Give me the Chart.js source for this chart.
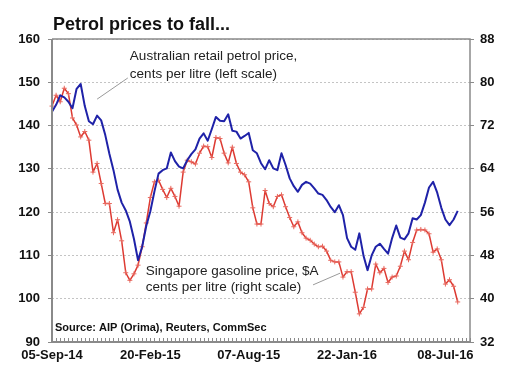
<!DOCTYPE html>
<html><head><meta charset="utf-8">
<script src="https://cdn.jsdelivr.net/npm/chart.js@4/dist/chart.umd.min.js"></script>
<style>html,body{margin:0;padding:0;background:#fff}canvas{display:block}</style>
</head><body>
<canvas id="c" width="507" height="378"></canvas>
<script>
const titleText = 'Petrol prices to fall...';
const sourceText = 'Source: AIP (Orima), Reuters, CommSec';
const retailLabel = ['Australian retail petrol price,', 'cents per litre (left scale)'];
const singaporeLabel = ['Singapore gasoline price, $A', 'cents per litre (right scale)'];
const tickLabels = ['05-Sep-14', '20-Feb-15', '07-Aug-15', '22-Jan-16', '08-Jul-16'];
const weekCount = 103;
const months = ['Jan','Feb','Mar','Apr','May','Jun','Jul','Aug','Sep','Oct','Nov','Dec'];
const categories = [];
for (let i = 0; i < weekCount; i++) {
  const d = new Date(Date.UTC(2014, 8, 5 + 7 * i));
  categories.push(String(d.getUTCDate()).padStart(2, '0') + '-' + months[d.getUTCMonth()] + '-' + String(d.getUTCFullYear()).slice(2));
}
// Australian retail petrol price, cents per litre (left scale)
const retailPrice = [
  143.2,144.8,147.0,146.5,145.5,144.0,148.5,149.6,144.5,141.0,
  140.3,142.3,141.2,137.8,133.5,129.7,125.2,122.2,120.4,117.8,
  113.8,108.9,112.0,116.8,120.2,124.8,128.9,129.7,130.1,133.8,
  131.8,130.5,130.1,132.0,133.4,134.5,137.0,138.2,136.5,139.2,
  142.0,141.1,141.0,142.6,138.8,138.6,137.0,137.6,138.3,134.3,
  133.6,131.3,129.9,132.0,130.1,129.7,133.6,130.9,127.8,126.0,
  124.7,126.3,127.0,126.6,125.5,124.3,124.0,122.8,121.2,120.0,
  121.6,119.3,114.0,112.0,111.3,115.1,110.0,106.6,110.0,112.0,
  112.7,111.5,110.4,114.0,116.9,114.1,113.7,115.1,118.6,118.3,
  119.3,122.2,125.7,127.0,124.5,121.0,118.3,117.0,118.3,120.3
];
// Singapore gasoline price, $A cents per litre (right scale)
const singaporePrice = [
  75.6,77.6,76.4,78.9,77.9,73.4,72.1,69.9,70.9,69.3,
  63.4,65.0,61.3,57.6,57.6,52.2,54.6,50.7,44.8,43.4,
  44.6,46.2,49.6,54.0,58.7,61.6,61.9,60.2,58.7,60.4,
  58.9,57.1,63.4,65.6,65.3,64.9,66.9,68.2,68.1,66.1,
  69.8,69.6,66.9,65.1,68.0,65.0,63.4,62.9,61.6,56.8,
  53.8,53.8,60.0,57.6,57.0,58.9,59.2,57.0,55.0,53.3,
  54.2,52.2,51.2,50.8,50.1,49.6,49.7,48.8,47.1,46.8,
  46.8,44.0,45.0,45.0,41.2,37.2,38.4,41.8,41.8,46.4,
  44.8,45.6,43.0,44.0,44.2,46.0,48.8,47.2,50.4,52.7,
  52.8,52.7,52.0,48.6,49.2,47.2,42.7,43.5,42.3,39.4
];
const leftMin = 90, leftMax = 160, leftStep = 10;
const rightMin = 32, rightMax = 88, rightStep = 8;

const FONT = '"Liberation Sans", Arial, sans-serif';
const BLUE = '#1f22a8';
const RED = '#dd3a32';
const AXIS = '#8a8a8a';

const decor = {
  id: 'decor',
  beforeDatasetsDraw(chart) {
    const {ctx, chartArea: a, scales} = chart;
    const xs = scales.x;
    ctx.save();
    ctx.strokeStyle = AXIS;
    ctx.lineWidth = 1;
    for (let i = 0; i < categories.length; i++) {
      const px = Math.round(xs.getPixelForValue(i)) + 0.5;
      ctx.beginPath();
      ctx.moveTo(px, a.bottom);
      ctx.lineTo(px, a.bottom - 4);
      ctx.stroke();
    }
    ctx.restore();
  },
  afterDatasetsDraw(chart) {
    const {ctx, chartArea: a, scales} = chart;
    const xs = scales.x, yl = scales.y;
    ctx.save();
    // frame
    ctx.strokeStyle = AXIS;
    ctx.lineWidth = 1.5;
    ctx.beginPath();
    ctx.moveTo(a.left, a.top); ctx.lineTo(a.right, a.top); ctx.lineTo(a.right, a.bottom);
    ctx.stroke();
    ctx.lineWidth = 2;
    ctx.beginPath();
    ctx.moveTo(a.left, a.top); ctx.lineTo(a.left, a.bottom); ctx.lineTo(a.right, a.bottom);
    ctx.stroke();
    // title
    ctx.fillStyle = '#111';
    ctx.textAlign = 'left';
    ctx.textBaseline = 'alphabetic';
    ctx.font = 'bold 18px ' + FONT;
    ctx.fillText(titleText, a.left + 1, 30);
    // annotations
    ctx.font = '13.5px ' + FONT;
    ctx.fillStyle = '#222';
    ctx.fillText(retailLabel[0], xs.getPixelForValue(19), yl.getPixelForValue(155.2));
    ctx.fillText(retailLabel[1], xs.getPixelForValue(19), yl.getPixelForValue(151.1));
    ctx.fillText(singaporeLabel[0], xs.getPixelForValue(22.9), yl.getPixelForValue(105.5));
    ctx.fillText(singaporeLabel[1], xs.getPixelForValue(22.9), yl.getPixelForValue(101.8));
    ctx.strokeStyle = '#9a9a9a';
    ctx.lineWidth = 1;
    ctx.beginPath();
    ctx.moveTo(xs.getPixelForValue(11), yl.getPixelForValue(146.1));
    ctx.lineTo(xs.getPixelForValue(18.5), yl.getPixelForValue(151));
    ctx.moveTo(xs.getPixelForValue(63.7), yl.getPixelForValue(103.2));
    ctx.lineTo(xs.getPixelForValue(70.3), yl.getPixelForValue(105.9));
    ctx.stroke();
    // source
    ctx.font = 'bold 11px ' + FONT;
    ctx.fillStyle = '#111';
    ctx.fillText(sourceText, a.left + 3, a.bottom - 11);
    ctx.restore();
  }
};

new Chart(document.getElementById('c'), {
  type: 'line',
  data: {
    labels: categories,
    datasets: [
      {
        label: 'Australian retail petrol price, cents per litre (left scale)',
        data: retailPrice,
        yAxisID: 'y',
        borderColor: BLUE,
        borderWidth: 2,
        pointRadius: 0,
        tension: 0,
        borderJoinStyle: 'round'
      },
      {
        label: 'Singapore gasoline price, $A cents per litre (right scale)',
        data: singaporePrice,
        yAxisID: 'y1',
        borderColor: RED,
        borderWidth: 1.5,
        pointStyle: 'cross',
        pointRadius: 2.5,
        pointBorderWidth: 1,
        pointBorderColor: '#e86a60',
        pointBackgroundColor: RED,
        tension: 0,
        borderJoinStyle: 'round'
      }
    ]
  },
  options: {
    responsive: false,
    animation: false,
    events: [],
    layout: { padding: { top: 39, left: 0, right: 0, bottom: 0 } },
    plugins: { legend: { display: false }, tooltip: { enabled: false }, title: { display: false } },
    scales: {
      x: {
        type: 'category',
        offset: false,
        grid: { display: false, drawTicks: false },
        border: { display: false },
        ticks: {
          autoSkip: false, maxRotation: 0, minRotation: 0, padding: 6,
          color: '#111', font: { family: FONT, size: 13, weight: 'bold' },
          callback: (v, i) => tickLabels.includes(categories[i]) ? categories[i] : ''
        },
        afterFit: s => { s.height = 36; }
      },
      y: {
        position: 'left',
        min: leftMin, max: leftMax,
        grid: { color: '#c4c4c4', lineWidth: 1, tickLength: 4, tickColor: AXIS },
        border: { display: false, dash: [2, 2] },
        ticks: { stepSize: leftStep, padding: 8, color: '#111', font: { family: FONT, size: 13, weight: 'bold' } },
        afterFit: s => { s.width = 52; }
      },
      y1: {
        position: 'right',
        min: rightMin, max: rightMax,
        grid: { drawOnChartArea: false, tickLength: 4, tickColor: AXIS },
        border: { display: false },
        ticks: { stepSize: rightStep, padding: 6, color: '#111', font: { family: FONT, size: 13, weight: 'bold' } },
        afterFit: s => { s.width = 37; }
      }
    }
  },
  plugins: [decor]
});
</script>
</body></html>
